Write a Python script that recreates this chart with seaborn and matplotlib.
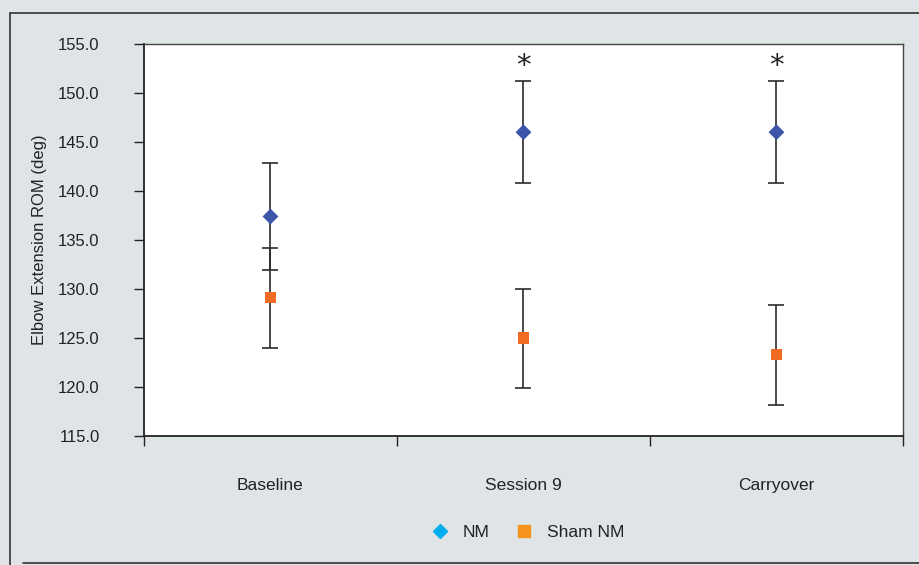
import matplotlib
matplotlib.use('Agg')
import matplotlib.pyplot as plt
from matplotlib.lines import Line2D
import seaborn as sns
import pandas as pd

categories = ['Baseline', 'Session 9', 'Carryover']
nm_mean = [137.4, 146.0, 146.0]
nm_err = [5.45, 5.2, 5.2]
sham_mean = [129.1, 125.0, 123.3]
sham_err = [5.1, 5.05, 5.1]
signif = [False, True, True]

bg = '#dfe4e7'
sns.set_theme(style='white')
plt.rcParams['font.family'] = ['Liberation Sans', 'DejaVu Sans']

df = pd.DataFrame({
    'phase': categories * 2,
    'rom': nm_mean + sham_mean,
    'err': nm_err + sham_err,
    'group': ['NM'] * 3 + ['Sham NM'] * 3,
})

fig = plt.figure(figsize=(9.2, 5.65), dpi=100, facecolor=bg)
ax = fig.add_axes([0.1565, 0.2283, 0.825, 0.6938])
ax.set_facecolor('white')

# error bars first, markers on top
for g in ['NM', 'Sham NM']:
    sub = df[df.group == g]
    ax.errorbar(sub.phase, sub.rom, yerr=sub.err, fmt='none', ecolor='#2b2b2b',
                elinewidth=1.2, capsize=6, capthick=1.2, zorder=2)

sns.scatterplot(data=df, x='phase', y='rom', hue='group', style='group',
                palette={'NM': '#3b55a8', 'Sham NM': '#f26b22'},
                markers={'NM': 'D', 'Sham NM': 's'},
                s=65, linewidth=0, legend=False, ax=ax, zorder=3)

for i, flag in enumerate(signif):
    if flag:
        ax.annotate('*', (categories[i], nm_mean[i] + nm_err[i]), xytext=(0, 1),
                    textcoords='offset points', ha='center', va='bottom',
                    fontsize=21, color='#222222', family='DejaVu Sans')

ax.set_xlim(-0.5, 2.5)
ax.set_ylim(115, 155)
ax.set_yticks([115, 120, 125, 130, 135, 140, 145, 150, 155])
ax.set_yticklabels([f'{v:.1f}' for v in ax.get_yticks()])
ax.set_xticks([0, 1, 2])
ax.set_xticklabels(categories)
ax.set_xticks([-0.5, 0.5, 1.5, 2.5], minor=True)
ax.tick_params(axis='x', which='major', length=0, pad=30, labelsize=12.5, labelcolor='#222222')
ax.tick_params(axis='x', which='minor', length=7, width=1, color='#222222', direction='out', bottom=True)
ax.tick_params(axis='y', length=7, width=1, color='#222222', direction='out', left=True,
               labelsize=12, labelcolor='#222222', pad=25)
ax.set_xlabel('')
ax.set_ylabel('Elbow Extension ROM (deg)', fontsize=12, color='#222222', labelpad=8)
for sp in ['left', 'bottom']:
    ax.spines[sp].set_color('#222222')
    ax.spines[sp].set_linewidth(1.3)
for sp in ['top', 'right']:
    ax.spines[sp].set_color('#444444')
    ax.spines[sp].set_linewidth(1.0)

handles = [
    Line2D([], [], marker='D', linestyle='none', color='#00aeef', markersize=7, label='NM'),
    Line2D([], [], marker='s', linestyle='none', color='#f7941d', markersize=8, label='Sham NM'),
]
fig.legend(handles=handles, loc='center', bbox_to_anchor=(0.569, 0.057), ncol=2,
           frameon=False, fontsize=12.5, handletextpad=0.3, columnspacing=1.0,
           labelcolor='#222222')

# outer frame of the figure
fig.add_artist(Line2D([10 / 920, 10 / 920], [0, 1 - 13 / 565], transform=fig.transFigure, color='#333333', lw=1.2))
fig.add_artist(Line2D([10 / 920, 1], [1 - 13 / 565, 1 - 13 / 565], transform=fig.transFigure, color='#333333', lw=1.2))
fig.add_artist(Line2D([23 / 920, 1], [2 / 565, 2 / 565], transform=fig.transFigure, color='#333333', lw=1.2))

fig.savefig('out.png', dpi=100, facecolor=bg)
